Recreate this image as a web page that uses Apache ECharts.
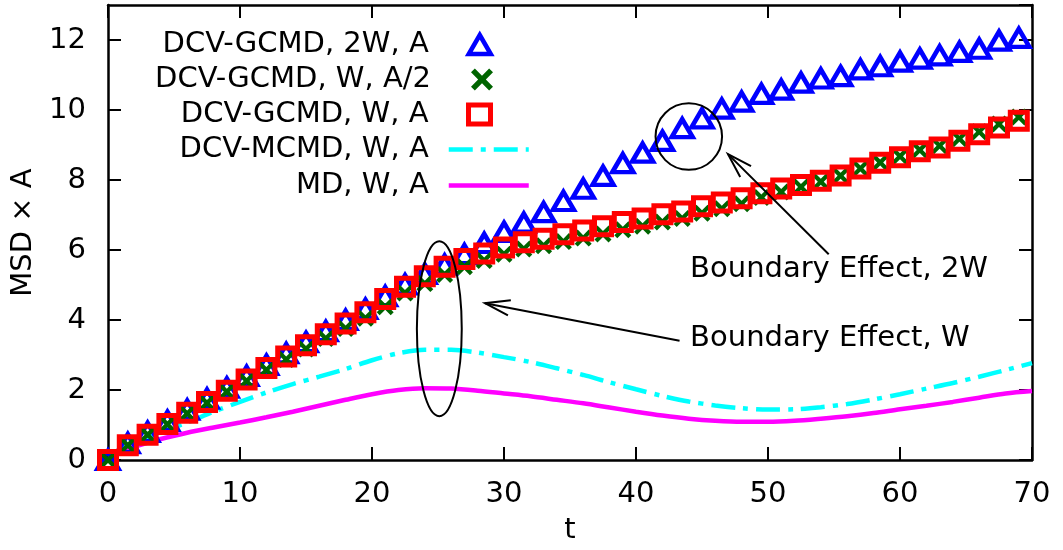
<!DOCTYPE html>
<html><head><meta charset="utf-8">
<script src="https://cdn.jsdelivr.net/npm/echarts@6/dist/echarts.min.js"></script>
<style>html,body{margin:0;padding:0;background:#fff}#c{width:1063px;height:550px}</style>
</head><body><div id="c"></div>
<script>
// ---- data ----
const markerT = [0,1.5,3,4.5,6,7.5,9,10.5,12,13.5,15,16.5,18,19.5,21,22.5,24,25.5,27,28.5,30,31.5,33,34.5,36,37.5,39,40.5,42,43.5,45,46.5,48,49.5,51,52.5,54,55.5,57,58.5,60,61.5,63,64.5,66,67.5,69];
const gcmd2W_A = [0,0.48,0.8,1.12,1.44,1.75,2.07,2.4,2.72,3.05,3.37,3.68,4.0,4.32,4.68,5.02,5.32,5.58,5.88,6.2,6.52,6.78,7.08,7.4,7.75,8.12,8.48,8.78,9.12,9.48,9.76,10.04,10.24,10.46,10.58,10.78,10.9,10.97,11.16,11.25,11.38,11.47,11.56,11.66,11.75,11.98,12.06];
const gcmdW_A2 = [0,0.42,0.72,1.02,1.33,1.63,1.95,2.26,2.57,2.87,3.17,3.47,3.76,4.05,4.38,4.77,5.04,5.3,5.52,5.7,5.88,6.03,6.12,6.24,6.34,6.46,6.58,6.68,6.8,6.9,7.05,7.18,7.32,7.5,7.66,7.8,7.95,8.12,8.33,8.5,8.68,8.86,8.98,9.18,9.38,9.6,9.8];
const gcmdW_A = [0,0.42,0.72,1.03,1.35,1.66,1.98,2.3,2.63,2.96,3.28,3.59,3.9,4.22,4.6,4.95,5.25,5.52,5.74,5.9,6.07,6.22,6.32,6.45,6.56,6.68,6.8,6.9,7.02,7.1,7.25,7.36,7.48,7.62,7.76,7.86,7.98,8.13,8.33,8.49,8.65,8.82,8.93,9.12,9.31,9.5,9.69];
const lineT = [0,1,2,4,6,8,10,12,14,16,18,20,22,24,26,28,30,32,34,36,38,40,42,44,46,48,50,52,54,56,58,60,62,64,66,68,70];
const mcmdW_A = [0,0.3,0.5,0.8,1.07,1.38,1.66,1.93,2.17,2.38,2.6,2.85,3.05,3.15,3.15,3.07,2.94,2.8,2.62,2.43,2.22,2.02,1.83,1.67,1.56,1.48,1.44,1.45,1.51,1.6,1.73,1.88,2.04,2.2,2.38,2.57,2.77];
const mdW_A = [0,0.25,0.38,0.6,0.78,0.93,1.07,1.22,1.38,1.55,1.72,1.88,2.0,2.05,2.04,1.98,1.9,1.82,1.72,1.62,1.5,1.38,1.27,1.18,1.12,1.09,1.09,1.12,1.18,1.25,1.34,1.45,1.55,1.66,1.78,1.9,1.97];
const seriesNames = ['DCV-GCMD, 2W, A','DCV-GCMD, W, A/2','DCV-GCMD, W, A','DCV-MCMD, W, A','MD, W, A'];
// annotations in data coordinates
const ellipseW = {t:25.1, v:3.75, rt:1.7, rv:2.5};
const circle2W = {t:44.0, v:9.24, rt:2.52};
const arrowW = {from:[43.3,3.41], to:[28.56,4.48]};
const arrow2W = {from:[54.6,5.88], to:[46.97,8.74]};
const textW = {t:44.1, v:3.46, text:'Boundary Effect, W'};
const text2W = {t:44.1, v:5.45, text:'Boundary Effect, 2W'};

// ---- chart ----
const FONT = 'DejaVu Sans';
const FS = 29;
const zip = (a,b) => a.map((x,i)=>[x,b[i]]);
const xPath = 'path://M0,3.5L3.5,0L10,6.5L16.5,0L20,3.5L13.5,10L20,16.5L16.5,20L10,13.5L3.5,20L0,16.5L6.5,10Z';
const colors = ['#0000ff','#006400','#ff0000','#00ffff','#ff00ff'];

const axisCommon = {
  type:'value', min:0,
  axisLine:{show:true, onZero:false, lineStyle:{color:'#000', width:2.5}},
  axisTick:{show:true, inside:true, length:13, lineStyle:{color:'#000', width:2}},
  splitLine:{show:false}
};
const chart = echarts.init(document.getElementById('c'));
const legendRows = [41,76,111,146,182];
const TEXT_RIGHT = 436;
const legends = seriesNames.map((n,i)=>{
  const isLine = i>=3;
  const iw = isLine ? 80 : (i===1 ? 22 : 22);
  const ih = isLine ? 14 : (i===1 ? 22 : 19);
  const iconRight = isLine ? 536 : 498;
  const L = {
    data:[n], orient:'vertical', align:'right', selectedMode:false,
    right: 1063 - iconRight, top: legendRows[i]-16,
    itemWidth: iw, itemHeight: ih, itemGap:0,
    textStyle:{fontSize:FS, fontFamily:FONT, color:'#000', padding:[0, (iconRight-iw-5)-TEXT_RIGHT, 0, 0]}
  };
  if (isLine) {
    L.itemStyle = {color:'rgba(0,0,0,0)', borderWidth:0, opacity:0};
    L.lineStyle = {width:4.5, color:colors[i]};
  } else if (i === 1) {
    L.itemStyle = {color:colors[i], borderWidth:0};
  } else {
    L.itemStyle = {color:'rgba(255,255,255,0)', borderColor:colors[i], borderWidth:i===0?4.5:5};
  }
  return L;
});
const option = {
  animation:false,
  backgroundColor:'#fff',
  textStyle:{fontFamily:FONT},
  grid:{left:108, right:31, top:5, bottom:87},
  legend: legends,
  xAxis:[
    Object.assign({}, axisCommon, {max:70, interval:10, position:'bottom',
      name:'t', nameLocation:'middle', nameGap:56,
      nameTextStyle:{fontSize:FS, fontFamily:FONT, color:'#000'},
      axisLabel:{fontSize:FS, fontFamily:FONT, color:'#000', margin:20}}),
    Object.assign({}, axisCommon, {max:70, interval:10, position:'top', axisLabel:{show:false}})
  ],
  yAxis:[
    Object.assign({}, axisCommon, {max:13, interval:2, position:'left',
      name:'MSD × A', nameLocation:'middle', nameGap:62,
      nameTextStyle:{fontSize:FS, fontFamily:FONT, color:'#000'},
      axisLabel:{fontSize:FS, fontFamily:FONT, color:'#000', margin:22, showMaxLabel:false}}),
    Object.assign({}, axisCommon, {max:13, interval:2, position:'right', axisLabel:{show:false}})
  ],
  series:[
    {name:seriesNames[0], type:'scatter', data:zip(markerT,gcmd2W_A), symbol:'triangle', symbolSize:[21,18],
     itemStyle:{color:'rgba(255,255,255,0)', borderColor:colors[0], borderWidth:4.5, opacity:1}, z:2},
    {name:seriesNames[1], type:'scatter', data:zip(markerT,gcmdW_A2), symbol:xPath, symbolSize:17,
     itemStyle:{color:colors[1], opacity:1}, z:2},
    {name:seriesNames[2], type:'scatter', data:zip(markerT,gcmdW_A), symbol:'rect', symbolSize:17,
     itemStyle:{color:'rgba(255,255,255,0)', borderColor:colors[2], borderWidth:5, opacity:1}, z:2},
    {name:seriesNames[3], type:'line', data:zip(lineT,mcmdW_A), symbol:'none', showSymbol:false, smooth:0.3,
     lineStyle:{color:colors[3], width:4.5, type:[24,8,5,8]}, itemStyle:{color:'rgba(0,0,0,0)'}, z:2},
    {name:seriesNames[4], type:'line', data:zip(lineT,mdW_A), symbol:'none', showSymbol:false, smooth:0.3,
     lineStyle:{color:colors[4], width:4.5}, itemStyle:{color:'rgba(0,0,0,0)'}, z:2}
  ]
};
chart.setOption(option);

const P = (t,v) => chart.convertToPixel({xAxisIndex:0, yAxisIndex:0}, [t,v]);
function arrow(a){
  const p0 = P(a.from[0],a.from[1]), p1 = P(a.to[0],a.to[1]);
  const ang = Math.atan2(p0[1]-p1[1], p0[0]-p1[0]);
  const L = 26, h = 0.30;
  const h1 = [p1[0]+L*Math.cos(ang+h), p1[1]+L*Math.sin(ang+h)];
  const h2 = [p1[0]+L*Math.cos(ang-h), p1[1]+L*Math.sin(ang-h)];
  return [
    {type:'line', shape:{x1:p0[0],y1:p0[1],x2:p1[0],y2:p1[1]}, style:{stroke:'#000', lineWidth:2}, z:10},
    {type:'polyline', shape:{points:[h1,p1,h2]}, style:{stroke:'#000', lineWidth:2, fill:null}, z:10}
  ];
}
const ec = P(ellipseW.t, ellipseW.v);
const erx = P(ellipseW.t+ellipseW.rt, ellipseW.v)[0]-ec[0];
const ery = ec[1]-P(ellipseW.t, ellipseW.v+ellipseW.rv)[1];
const cc = P(circle2W.t, circle2W.v);
const cr = P(circle2W.t+circle2W.rt, circle2W.v)[0]-cc[0];
const tW = P(textW.t, textW.v), t2W = P(text2W.t, text2W.v);
chart.setOption({graphic:[
  {type:'ellipse', shape:{cx:ec[0], cy:ec[1], rx:erx, ry:ery}, style:{stroke:'#000', lineWidth:2, fill:null}, z:10},
  {type:'circle', shape:{cx:cc[0], cy:cc[1], r:cr}, style:{stroke:'#000', lineWidth:2, fill:null}, z:10},
  ...arrow(arrowW), ...arrow(arrow2W),
  {type:'text', x:tW[0], y:tW[1], style:{text:textW.text, fontSize:FS, fontFamily:FONT, fill:'#000', verticalAlign:'middle', align:'left'}, z:10},
  {type:'text', x:t2W[0], y:t2W[1], style:{text:text2W.text, fontSize:FS, fontFamily:FONT, fill:'#000', verticalAlign:'middle', align:'left'}, z:10}
]});
</script></body></html>
